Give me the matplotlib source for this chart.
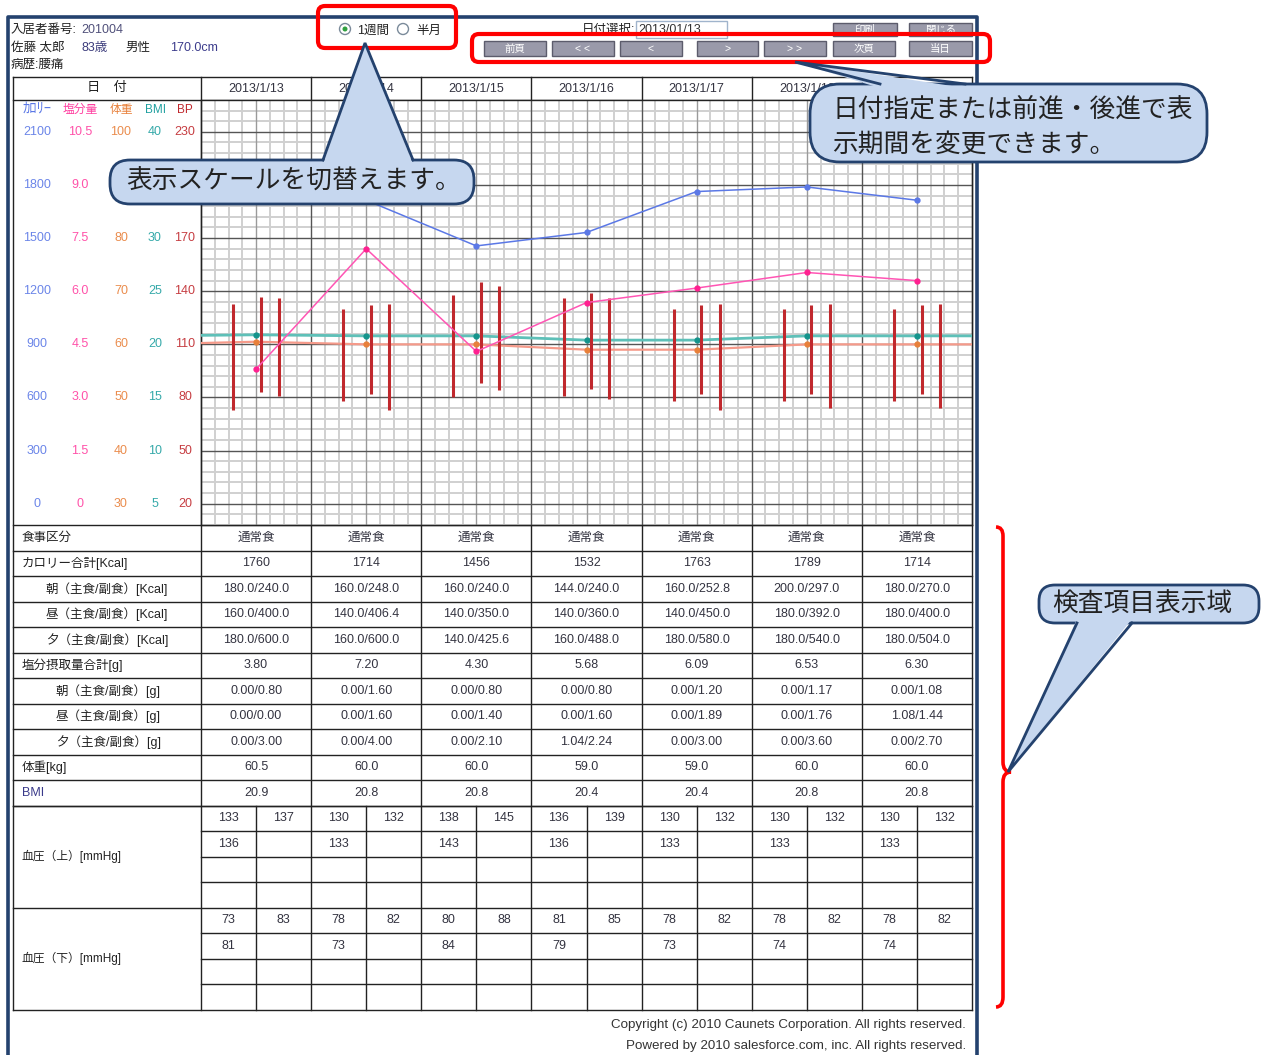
import numpy as np
import matplotlib.pyplot as plt
import matplotlib.transforms as mtransforms
from matplotlib.patches import FancyBboxPatch, Polygon, Rectangle, Circle, PathPatch
from matplotlib.path import Path

plt.rcParams['font.family'] = ['Liberation Sans', 'Noto Sans CJK JP', 'DejaVu Sans']

# ---- data ----
dates = ['2013/1/13', '2013/1/14', '2013/1/15', '2013/1/16', '2013/1/17', '2013/1/18', '2013/1/19']
meal_type = ['通常食'] * 7
cal_total = [1760, 1714, 1456, 1532, 1763, 1789, 1714]
cal_breakfast = ['180.0/240.0', '160.0/248.0', '160.0/240.0', '144.0/240.0', '160.0/252.8', '200.0/297.0', '180.0/270.0']
cal_lunch = ['160.0/400.0', '140.0/406.4', '140.0/350.0', '140.0/360.0', '140.0/450.0', '180.0/392.0', '180.0/400.0']
cal_dinner = ['180.0/600.0', '160.0/600.0', '140.0/425.6', '160.0/488.0', '180.0/580.0', '180.0/540.0', '180.0/504.0']
salt_total = [3.80, 7.20, 4.30, 5.68, 6.09, 6.53, 6.30]
salt_breakfast = ['0.00/0.80', '0.00/1.60', '0.00/0.80', '0.00/0.80', '0.00/1.20', '0.00/1.17', '0.00/1.08']
salt_lunch = ['0.00/0.00', '0.00/1.60', '0.00/1.40', '0.00/1.60', '0.00/1.89', '0.00/1.76', '1.08/1.44']
salt_dinner = ['0.00/3.00', '0.00/4.00', '0.00/2.10', '1.04/2.24', '0.00/3.00', '0.00/3.60', '0.00/2.70']
weight = [60.5, 60.0, 60.0, 59.0, 59.0, 60.0, 60.0]
bmi = [20.9, 20.8, 20.8, 20.4, 20.4, 20.8, 20.8]
# values of the day before / after the shown week (lines run off the edges)
weight_prev, weight_next = 60.0, 60.0
bmi_prev, bmi_next = 20.8, 20.8
bp_high = [[133, 137, 136], [130, 132, 133], [138, 145, 143], [136, 139, 136],
           [130, 132, 133], [130, 132, 133], [130, 132, 133]]
bp_low = [[73, 83, 81], [78, 82, 73], [80, 88, 84], [81, 85, 79],
          [78, 82, 73], [78, 82, 74], [78, 82, 74]]
bp_hours = [7, 13, 17]

cal_ticks = [0, 300, 600, 900, 1200, 1500, 1800, 2100]
salt_labels = ['0', '1.5', '3.0', '4.5', '6.0', '7.5', '9.0', '10.5']
weight_labels = ['30', '40', '50', '60', '70', '80', '90', '100']
bmi_labels = ['5', '10', '15', '20', '25', '30', '35', '40']
bp_labels = ['20', '50', '80', '110', '140', '170', '200', '230']

# colours
c_cal = '#5b78e6'
c_salt = '#ff3fa0'
c_wt = '#e8803a'
c_bmi = '#20a0a0'
c_bp = '#c0282d'
navy = '#24426e'
txt = '#333340'


# scale conversions onto the calorie axis
def salt2y(v):
    return np.asarray(v) * 2100 / 10.5


def wt2y(v):
    return (np.asarray(v) - 30) * 2100 / 70


def bmi2y(v):
    return (np.asarray(v) - 5) * 2100 / 35


def bp2y(v):
    return (np.asarray(v) - 20) * 2100 / 210


W, H = 1270, 1055
fig = plt.figure(figsize=(W / 100, H / 100), dpi=100)

bg = fig.add_axes([0, 0, 1, 1], zorder=0)
bg.set_xlim(0, W)
bg.set_ylim(H, 0)
bg.axis('off')

# chart geometry (pixels)
X0, X1 = 201, 972
Y0, Y1 = 100, 525
col_w = (X1 - X0) / 7
TL = 13      # table left
HEAD = 77    # table top
ROW = 25.5

# ---- main chart ----
ax = fig.add_axes([X0 / W, 1 - Y1 / H, (X1 - X0) / W, (Y1 - Y0) / H], zorder=1)
ax.set_xlim(0, 7)
ax.set_ylim(-120, 2280)
ax.set_xticks([])
ax.set_yticks([])
for s in ax.spines.values():
    s.set_color('#222222')
    s.set_linewidth(1.0)

for k in range(57):
    t = k / 8
    if k % 8 == 0:
        ax.axvline(t, color='#555555', lw=1.0, zorder=2)
    elif k % 4 == 0:
        ax.axvline(t, color='#9a9a9a', lw=1.0, zorder=1.5)
    else:
        ax.axvline(t, color='#d0d0d0', lw=1.4, zorder=1)
for v in range(-120, 2281, 60):
    if v % 300 == 0:
        ax.axhline(v, color='#555555', lw=1.0, zorder=2)
    else:
        ax.axhline(v, color='#d0d0d0', lw=1.4, zorder=1)

xd = np.arange(7) + 0.5
xe = np.arange(-1, 8) + 0.5
ax.plot(xe, wt2y([weight_prev] + weight + [weight_next]), color='#f59a8a', lw=1.6, zorder=3)
ax.plot(xd, wt2y(weight), 'o', color=c_wt, ms=3.5, zorder=3.1)
ax.plot(xe, bmi2y([bmi_prev] + bmi + [bmi_next]), color='#5ec0b8', lw=2.0, zorder=3)
ax.plot(xd, bmi2y(bmi), 'o', color='#14948c', ms=3.5, zorder=3.1)

for i in range(7):
    xs = i + np.array(bp_hours) / 24
    ax.vlines(xs, bp2y(bp_low[i]), bp2y(bp_high[i]), color=c_bp, lw=2.2, zorder=4)

ax.plot(xd, cal_total, color=c_cal, lw=1.1, marker='o', ms=3.5, zorder=5)
ax.plot(xd, salt2y(salt_total), color='#ff55b4', lw=1.1, marker='o', ms=3.5,
        mfc='#ff2090', mec='#ff2090', zorder=5)

# ---- table frame ----
lc = '#222222'
col_x = [X0 + col_w * k for k in range(8)]
bottom = Y1 + ROW * 11 + ROW * 8
bg.plot([TL, X1], [HEAD, HEAD], color=lc, lw=1)
bg.plot([TL, X1], [Y0, Y0], color=lc, lw=1)
for k in range(12):
    bg.plot([TL, X1], [Y1 + ROW * k] * 2, color=lc, lw=1)
bp_top = Y1 + ROW * 11
for j in range(9):
    yy = bp_top + ROW * j
    x_start = TL if j in (0, 4, 8) else X0
    bg.plot([x_start, X1], [yy, yy], color=lc, lw=1)
bg.plot([TL, TL], [HEAD, bottom], color=lc, lw=1)
for xx in col_x:
    bg.plot([xx, xx], [HEAD, bottom], color=lc, lw=1)
for k in range(7):
    xm = X0 + col_w * (k + 0.5)
    bg.plot([xm, xm], [bp_top, bottom], color=lc, lw=1)

# header row
bg.text(107, 88, '日　付', ha='center', va='center', fontsize=9.5, color='#222')
for k, d in enumerate(dates):
    bg.text(X0 + col_w * (k + 0.5), 89, d, ha='center', va='center', fontsize=9, color=txt)

# scale labels in the left column (the 1800 row is hidden under the callout from 体重 on)
trans = mtransforms.blended_transform_factory(bg.transData, ax.transData)
scale_cols = [(37, 'ｶﾛﾘｰ', c_cal, [str(v) for v in cal_ticks], 10.5),
              (80, '塩分量', c_salt, salt_labels, 8.5),
              (121, '体重', c_wt, weight_labels, 8.5),
              (155, 'BMI', c_bmi, bmi_labels, 8.5),
              (185, 'BP', c_bp, bp_labels, 8.5)]
for xc, name, col, labs, fs in scale_cols:
    bg.text(xc, 110, name, ha='center', va='center', fontsize=fs, color=col)
    for v, lab in zip(cal_ticks, labs):
        if v == 1800 and xc > 110:
            continue
        bg.text(xc, v, lab, transform=trans, ha='center', va='center', fontsize=9, color=col, alpha=0.9)

# table rows
rows = [('食事区分', 22, meal_type),
        ('カロリー合計[Kcal]', 22, [str(v) for v in cal_total]),
        ('朝（主食/副食）[Kcal]', 46, cal_breakfast),
        ('昼（主食/副食）[Kcal]', 46, cal_lunch),
        ('夕（主食/副食）[Kcal]', 46, cal_dinner),
        ('塩分摂取量合計[g]', 22, ['%.2f' % v for v in salt_total]),
        ('朝（主食/副食）[g]', 56, salt_breakfast),
        ('昼（主食/副食）[g]', 56, salt_lunch),
        ('夕（主食/副食）[g]', 56, salt_dinner),
        ('体重[kg]', 22, ['%.1f' % v for v in weight]),
        ('BMI', 22, ['%.1f' % v for v in bmi])]
for r, (lab, ind, vals) in enumerate(rows):
    yc = Y1 + ROW * (r + 0.5)
    bg.text(ind, yc, lab, ha='left', va='center', fontsize=9, color='#3a3a8a' if lab == 'BMI' else '#222')
    for k, v in enumerate(vals):
        bg.text(X0 + col_w * (k + 0.5), yc, v, ha='center', va='center', fontsize=9, color=txt)

for b, (lab, series) in enumerate([('血圧（上）[mmHg]', bp_high), ('血圧（下）[mmHg]', bp_low)]):
    top = bp_top + ROW * 4 * b
    bg.text(22, top + ROW * 2, lab, ha='left', va='center', fontsize=8.5, color='#222')
    for k, day in enumerate(series):
        for m, v in enumerate(day):
            xc = X0 + col_w * k + col_w / 4 * (1 + 2 * (m % 2))
            yc = top + ROW * (m // 2 + 0.5)
            bg.text(xc, yc, str(v), ha='center', va='center', fontsize=9, color=txt)

# copyright
bg.text(966, 1025, 'Copyright (c) 2010 Caunets Corporation. All rights reserved.',
        ha='right', va='center', fontsize=9.6, color='#333')
bg.text(966, 1046, 'Powered by 2010 salesforce.com, inc. All rights reserved.',
        ha='right', va='center', fontsize=9.6, color='#333')

# outer frame
bg.plot([8, 8, 977, 977], [1060, 17, 17, 1060], color=navy, lw=2.6)

# header info
bg.text(11, 30, '入居者番号:', ha='left', va='center', fontsize=9, color='#222')
bg.text(81, 30, '201004', ha='left', va='center', fontsize=9, color='#50507a')
bg.text(11, 48, '佐藤 太郎', ha='left', va='center', fontsize=9, color='#222')
bg.text(82, 48, '83歳', ha='left', va='center', fontsize=9, color='#3c3c7c')
bg.text(126, 48, '男性', ha='left', va='center', fontsize=9, color='#222')
bg.text(170, 48, '170.0cm', ha='left', va='center', fontsize=9, color='#3c3c8c')
bg.text(11, 65, '病歴:腰痛', ha='left', va='center', fontsize=9, color='#222')

# radio buttons
bg.add_patch(Circle((345, 29), 5.5, fc='white', ec='#7a8a9a', lw=1))
bg.add_patch(Circle((345, 29), 2.5, fc='#30a040', ec='none'))
bg.text(357, 31, '1週間', ha='left', va='center', fontsize=9, color='#222')
bg.add_patch(Circle((403, 29), 5.5, fc='white', ec='#7a8a9a', lw=1))
bg.text(416, 31, '半月', ha='left', va='center', fontsize=9, color='#222')

# date selector
bg.text(635, 30, '日付選択:', ha='right', va='center', fontsize=9, color='#222')
bg.add_patch(Rectangle((636, 21), 91, 17, fc='white', ec='#a0b4cc', lw=1))
bg.text(638, 30, '2013/01/13', ha='left', va='center', fontsize=9, color='#333')

buttons = [('印刷', 833, 897, 23, 36), ('閉じる', 909, 972, 23, 36),
           ('前頁', 484, 546, 41, 56), ('< <', 552, 614, 41, 56), ('<', 620, 682, 41, 56),
           ('>', 697, 758, 41, 56), ('> >', 764, 826, 41, 56), ('次頁', 833, 895, 41, 56),
           ('当日', 909, 972, 41, 56)]
for lab, x0, x1, y0, y1 in buttons:
    bg.add_patch(Rectangle((x0, y0), x1 - x0, y1 - y0, fc='#9a9aaa', ec='#5c5c6c', lw=1))
    bg.text((x0 + x1) / 2, (y0 + y1) / 2 + 0.5, lab, ha='center', va='center', fontsize=7.5, color='white')

# ---- annotation layer ----
top_ax = fig.add_axes([0, 0, 1, 1], zorder=3)
top_ax.set_xlim(0, W)
top_ax.set_ylim(H, 0)
top_ax.axis('off')
top_ax.patch.set_alpha(0)

red = '#ff0000'
for x0, y0, x1, y1 in [(318, 6, 456, 48), (472, 34, 990, 62)]:
    top_ax.add_patch(FancyBboxPatch((x0, y0), x1 - x0, y1 - y0,
                                    boxstyle='round,pad=0,rounding_size=7',
                                    fc='none', ec=red, lw=3.0))

fill = '#c6d7ef'


def callout(box, tip, base, radius):
    x0, y0, x1, y1 = box
    top_ax.add_patch(FancyBboxPatch((x0, y0), x1 - x0, y1 - y0,
                                    boxstyle='round,pad=0,rounding_size=%d' % radius,
                                    fc=fill, ec=navy, lw=2.0, zorder=1))
    (bx0, by0), (bx1, by1) = base
    inward = 4 if by0 <= y0 + 1 else -4
    top_ax.add_patch(Polygon([tip, (bx0, by0 + inward), (bx1, by1 + inward)],
                             closed=True, fc=fill, ec='none', zorder=2))
    top_ax.plot([bx0, tip[0], bx1], [by0, tip[1], by1], color=navy, lw=2.0,
                solid_joinstyle='miter', zorder=3)


callout((110, 160, 474, 204), (365, 43), [(323, 160), (413, 160)], 20)
top_ax.text(126, 182, '表示スケールを切替えます。', ha='left', va='center',
            fontsize=18.5, color='#222', family=['Noto Sans CJK JP'], zorder=4)

callout((810, 84, 1207, 162), (795, 62), [(880, 84), (965, 84)], 30)
top_ax.text(832, 110, '日付指定または前進・後進で表', ha='left', va='center',
            fontsize=18.5, color='#222', family=['Noto Sans CJK JP'], zorder=4)
top_ax.text(832, 145, '示期間を変更できます。', ha='left', va='center',
            fontsize=18.5, color='#222', family=['Noto Sans CJK JP'], zorder=4)

callout((1039, 585, 1259, 623), (1008, 772), [(1077, 623), (1132, 623)], 16)
top_ax.text(1052, 605, '検査項目表示域', ha='left', va='center',
            fontsize=18.5, color='#222', family=['Noto Sans CJK JP'], zorder=4)

# red brace
verts = [(996, 527), (1003, 527), (1003, 536),
         (1003, 762), (1003, 772), (1011, 772),
         (1003, 772), (1003, 782),
         (1003, 997), (1003, 1007), (996, 1007)]
codes = [Path.MOVETO, Path.CURVE3, Path.CURVE3,
         Path.LINETO, Path.CURVE3, Path.CURVE3,
         Path.CURVE3, Path.CURVE3,
         Path.LINETO, Path.CURVE3, Path.CURVE3]
top_ax.add_patch(PathPatch(Path(verts, codes), fc='none', ec=red, lw=2.6))

fig.savefig('out.png', dpi=100, facecolor='white')
